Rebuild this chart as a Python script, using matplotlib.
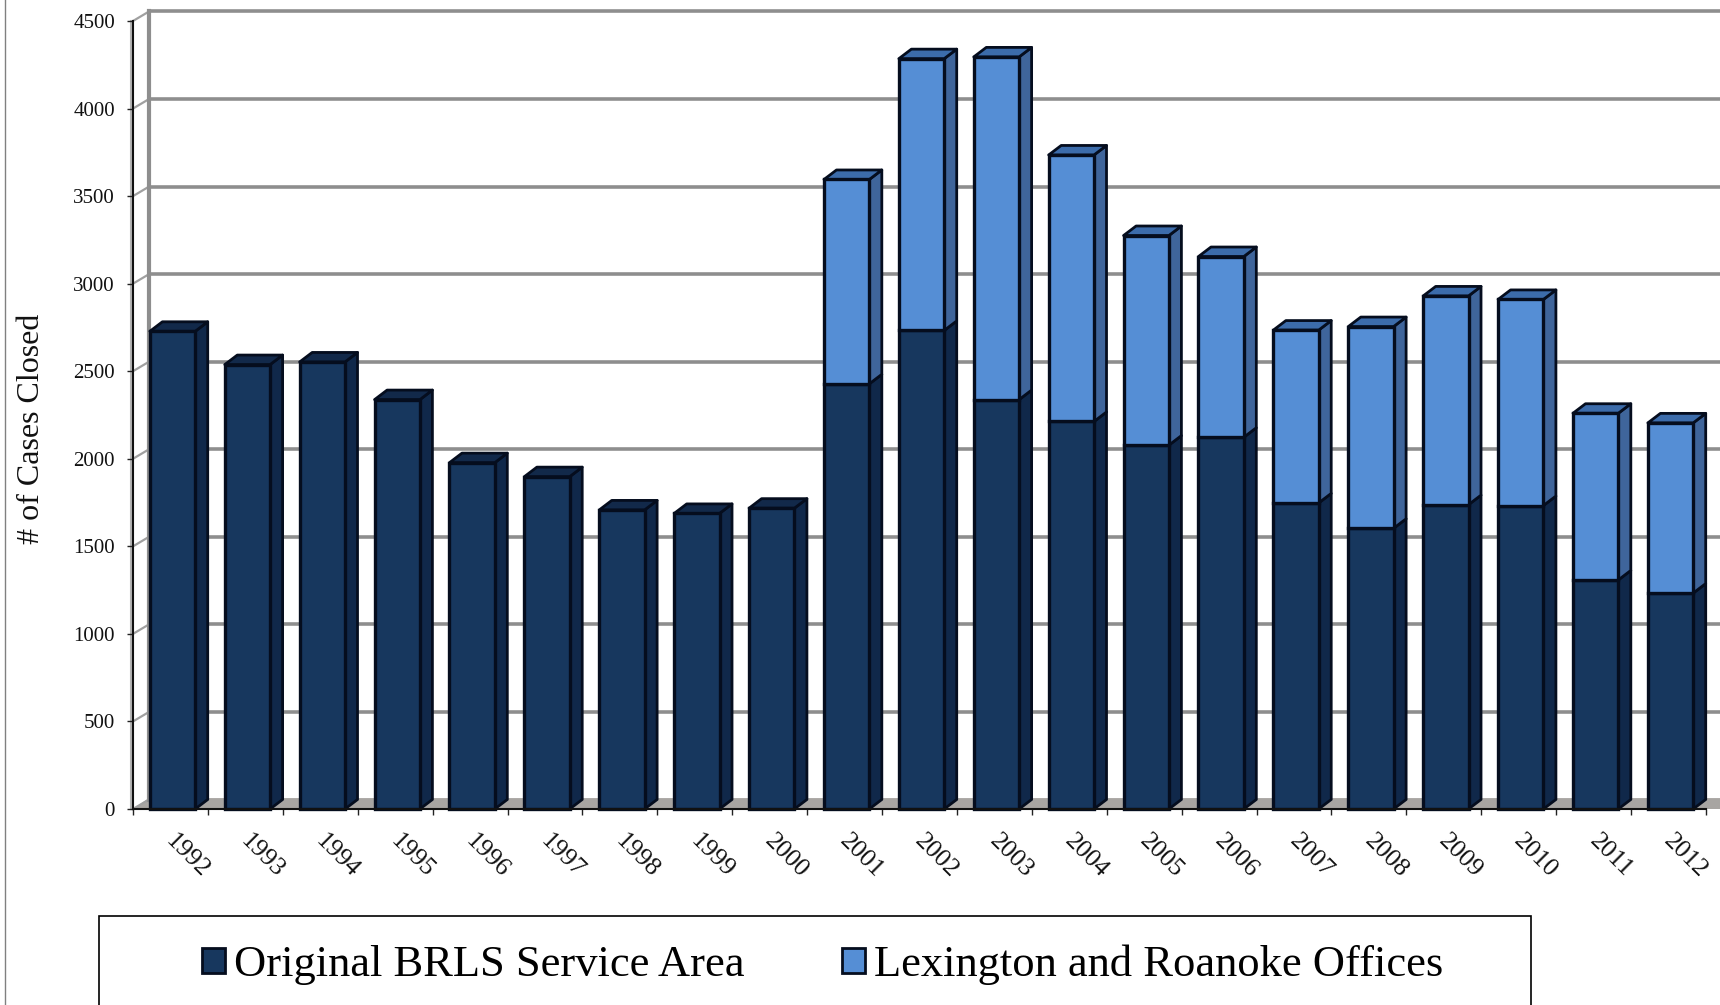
import matplotlib
matplotlib.use("Agg")
import matplotlib.pyplot as plt
import numpy as np
from matplotlib.lines import Line2D
from matplotlib.patches import Polygon, Rectangle

years = [1992, 1993, 1994, 1995, 1996, 1997, 1998, 1999, 2000, 2001, 2002,
         2003, 2004, 2005, 2006, 2007, 2008, 2009, 2010, 2011, 2012]
original = [2728, 2538, 2553, 2338, 1978, 1898, 1708, 1688, 1718, 2428, 2733,
            2338, 2213, 2078, 2123, 1748, 1603, 1738, 1733, 1308, 1233]
lex_roanoke = [0, 0, 0, 0, 0, 0, 0, 0, 0, 1167, 1552,
               1957, 1522, 1197, 1032, 987, 1152, 1192, 1177, 952, 972]
y_ticks = [0, 500, 1000, 1500, 2000, 2500, 3000, 3500, 4000, 4500]
names = ["Original BRLS Service Area", "Lexington and Roanoke Offices"]

W, H = 1720, 1005
plt.rcParams["font.family"] = ["Liberation Serif", "DejaVu Serif"]

fig = plt.figure(figsize=(W / 100, H / 100), dpi=100)
# axes box in pixels: floor front edge 809, top 21, left 133
ax = fig.add_axes([133 / W, (H - 809) / H, (W - 133) / W, 788 / H])
ax.set_xlim(0, (W - 133) / 74.9)
ax.set_ylim(0, 4500)

# 3d offset of the fake perspective, in data units
dx = 16 / 74.9
dy = 9.5 / 788 * 4500
bar_dx = 12.5 / 74.9
xmax = ax.get_xlim()[1]
grey = "#8e8e8e"

# floor
ax.add_patch(Polygon([(0, 0), (dx, dy * 1.15), (xmax, dy * 1.15), (xmax, 0)], closed=True,
                     fc="#a8a5a2", ec="none", zorder=1, clip_on=False))

# walls and gridlines
for t in y_ticks:
    ax.plot([0, dx], [t, t + dy], color="#a0a0a0", lw=1.6, zorder=1.5, clip_on=False)
    if t > 0:
        ax.plot([dx, xmax], [t + dy, t + dy], color=grey, lw=2.6, zorder=1.5, clip_on=False)
ax.plot([dx, dx], [dy, 4500 + dy], color=grey, lw=3, zorder=1.5, clip_on=False)
ax.plot([-0.025, -0.025], [0, 4500], color="#b5b5b5", lw=1.5, zorder=1.5, clip_on=False)

# bars
x_left = np.arange(len(years)) + dx + 0.012
w = 0.605
edge = "#050d1e"


def draw_segment(x, bottom, height, front, side, top_col, with_top, z):
    top = bottom + height
    ax.add_patch(Polygon([(x + w, bottom), (x + w + bar_dx, bottom + dy),
                          (x + w + bar_dx, top + dy), (x + w, top)], closed=True,
                         fc=side, ec=edge, lw=2, joinstyle="round", zorder=z, clip_on=False))
    if with_top:
        ax.add_patch(Polygon([(x, top), (x + bar_dx, top + dy), (x + w + bar_dx, top + dy),
                              (x + w, top)], closed=True,
                             fc=top_col, ec=edge, lw=2, joinstyle="round", zorder=z, clip_on=False))
    ax.bar(x, height, width=w, bottom=bottom, align="edge", color=front,
           edgecolor=edge, linewidth=2.4, zorder=z + 0.1, clip_on=False)


for i, x in enumerate(x_left):
    z = 3 + i
    draw_segment(x, 0, original[i], "#17375e", "#10284a", "#12294a", lex_roanoke[i] == 0, z)
    if lex_roanoke[i] > 0:
        draw_segment(x, original[i], lex_roanoke[i], "#558ed5", "#3f659b", "#3c6cab", True, z + 0.3)

# axes lines, ticks, labels
for s in ax.spines.values():
    s.set_visible(False)
ax.plot([0, 0], [0, 4500], color="#111111", lw=1.5, zorder=30, clip_on=False)
ax.plot([0, len(years)], [0, 0], color="#111111", lw=1.5, zorder=30, clip_on=False)
ax.set_yticks(y_ticks)
ax.set_xticks(np.arange(len(years) + 1))
ax.set_xticklabels([])
ax.tick_params(axis="both", length=4.5, width=1, color="#222222", pad=8.5)
ax.tick_params(axis="y", labelsize=15, labelcolor="#111111")
ax.patch.set_visible(False)

for i, yr in enumerate(years):
    ax.annotate(str(yr), xy=(i + 0.5, 0), xytext=(17, -47), textcoords="offset pixels",
                rotation=-45, ha="center", va="center", fontsize=18.5, color="#111111",
                annotation_clip=False)

fig.text(32 / W, 1 - 429 / H, "# of Cases Closed", rotation=90, ha="center", va="center",
         fontsize=23, color="#111111")

# legend frame runs off the bottom of the page
fig.add_artist(Rectangle((99 / W, -0.02), (1531 - 99) / W, (H - 916) / H + 0.02,
                         transform=fig.transFigure, fc="white", ec="black", lw=1.2))
handles = [Rectangle((0, 0), 1, 1, fc="#17375e", ec=edge, lw=2),
           Rectangle((0, 0), 1, 1, fc="#558ed5", ec=edge, lw=2)]
fig.legend(handles, names, ncols=2, loc="center left", frameon=False, fontsize=32,
           bbox_to_anchor=(202 / W, 1 - 965 / H), handlelength=0.52, handleheight=0.52,
           handletextpad=0.2, columnspacing=2.2, borderpad=0, borderaxespad=0)

# page edge on the left
fig.add_artist(Line2D([4.5 / W, 4.5 / W], [0, 1], color="#808080", lw=1))

fig.savefig("out.png", dpi=100, facecolor="white")
